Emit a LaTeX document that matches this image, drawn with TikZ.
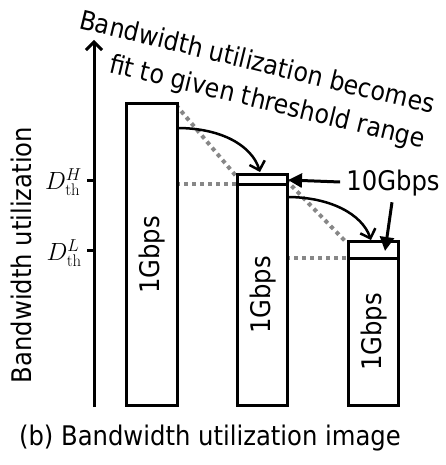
\documentclass[tikz,border=0pt]{standalone}
\usepackage{fontspec}
\newfontfamily\labelfont{DejaVu Sans Condensed}
\usetikzlibrary{arrows.meta}
\begin{document}
\begin{tikzpicture}[x=1pt,y=-1pt,
  txt/.style={font=\labelfont\fontsize{27}{35}\selectfont, inner sep=0pt},
  note/.style={font=\labelfont\fontsize{26.3}{34}\selectfont, inner sep=0pt, rotate=-13.6, anchor=base west},
  bar/.style={draw, line width=3pt, fill=white, inner sep=0pt, anchor=south west},
  guide/.style={draw=black!47, line width=4pt, dash pattern=on 4pt off 4pt},
  curvearrow/.style={line width=2.5pt, -{Straight Barb[length=8pt,width=16pt,line width=2.5pt]}},
  tri/.style={line width=3pt, -{Triangle[length=14pt,width=14pt]}},
  axis/.style={line width=3pt, -{Straight Barb[length=8pt,width=16pt,line width=3pt]}},
  thr/.style={anchor=east, inner sep=0pt, font=\fontsize{24}{28}\selectfont}]
\useasboundingbox (0,0) rectangle (446,465);

% threshold guide lines (behind the bars)
\coordinate (g1a) at (176,105);
\coordinate (g1b) at (236,176);
\coordinate (g2a) at (286,180);
\coordinate (g2b) at (347,243);
\coordinate (h1a) at (176,184);
\coordinate (h1b) at (236,184);
\coordinate (h2a) at (286,258);
\coordinate (h2b) at (347,258);
\draw[guide] (g1a) -- (g1b);
\draw[guide] (g2a) -- (g2b);
\draw[guide] (h1a) -- (h1b);
\draw[guide] (h2a) -- (h2b);

% axis
\coordinate (ax0) at (94,407);
\coordinate (ax1) at (94,40);
\draw[axis] (ax0) -- (ax1);
\node[txt, rotate=90] (ylab) at (21,255) {Bandwidth utilization};

% threshold ticks
\coordinate (tH) at (87,180);
\coordinate (tHa) at (94,180);
\coordinate (tL) at (87,250);
\coordinate (tLa) at (94,250);
\draw[line width=3pt] (tH) -- (tHa);
\draw[line width=3pt] (tL) -- (tLa);
\node[thr] (DH) at (82,182) {$D^{H}_{\mathrm{th}}$};
\node[thr] (DL) at (82,253) {$D^{L}_{\mathrm{th}}$};

% bars
\node[bar, minimum width=51pt, minimum height=302pt] (b1) at (125,407) {};
\node[bar, minimum width=50pt, minimum height=231pt] (b2) at (236,407) {};
\node[bar, minimum width=50pt, minimum height=164pt] (b3) at (347,407) {};
\draw[line width=3pt] (b2.west |- 0,184) -- (b2.east |- 0,184);
\draw[line width=3pt] (b3.west |- 0,258) -- (b3.east |- 0,258);

\node[txt, rotate=90] (l1) at (152,255) {1Gbps};
\node[txt, rotate=90] (l2) at (263,295) {1Gbps};
\node[txt, rotate=90] (l3) at (374,332) {1Gbps};

% moves between bars
\coordinate (c1s) at (177,128);
\coordinate (c1e) at (260,172);
\coordinate (c2s) at (287,197);
\coordinate (c2e) at (371,240);
\draw[curvearrow] (c1s) .. controls (222,128) and (252,146) .. (c1e);
\draw[curvearrow] (c2s) .. controls (330,197) and (362,214) .. (c2e);

% 10Gbps label and pointers
\node[txt] (g10) at (393,183) {10Gbps};
\coordinate (p1) at (288,180);
\coordinate (p2) at (385,251);
\draw[tri] (g10.west) ++(-6,-1) -- (p1);
\draw[tri] (g10.south) ++(-1,6) -- (p2);

% rotated remark, one node per line
\node[note] (note1) at (78,28) {Bandwidth utilization becomes};
\node[note] (note2) at (108,72) {fit to given threshold range};

% caption
\node[txt] (cap) at (210,438) {(b) Bandwidth utilization image};
\end{tikzpicture}
\end{document}
